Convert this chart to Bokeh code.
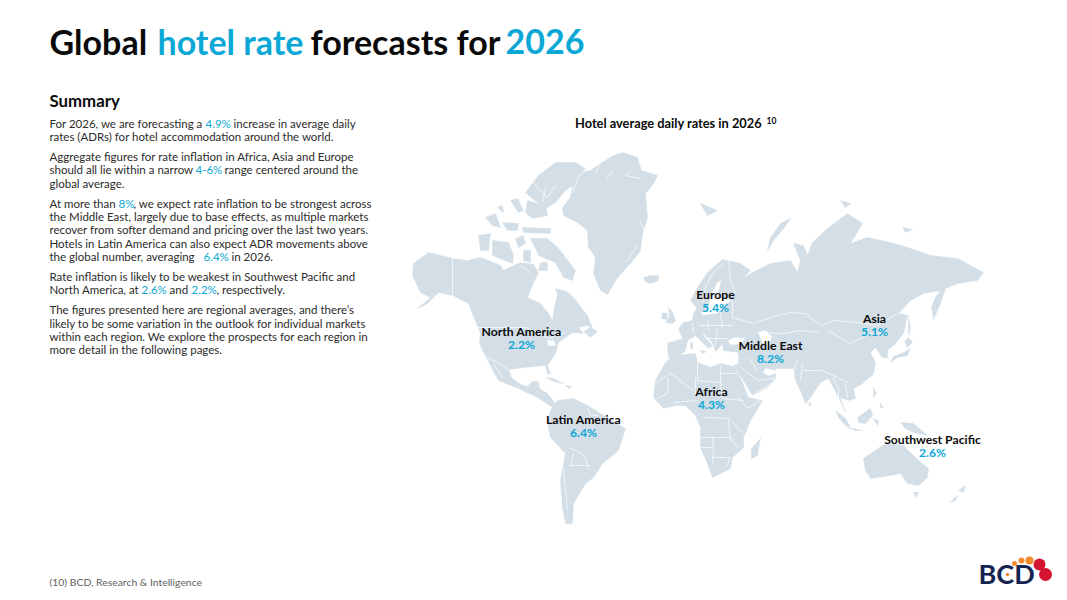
from bokeh.plotting import figure
from bokeh.models import Range1d, ColumnDataSource
from bokeh.core.properties import value
from bokeh.embed import file_html
from bokeh.resources import INLINE

# ---- Data -------------------------------------------------------------
regions = ["North America", "Europe", "Asia", "Middle East", "Africa", "Latin America", "Southwest Pacific"]
rates = ["2.2%", "5.4%", "5.1%", "8.2%", "4.3%", "6.4%", "2.6%"]
region_x = [521, 715, 874, 770, 711, 583, 932]
region_y = [330.5, 293.5, 317.5, 344.5, 390.5, 418.5, 438.5]

# map outlines
greenland = [(607,294),(600,290),(593,273),(595,257),(588,247),(587,230),(577,222),(563,215),(562,207),(570,197),(572,185),(580,172),(590,170),(600,163),(613,155),(623,152),(637,157),(641,170),(657,175),(653,183),(645,193),(647,217),(642,233),(640,250),(630,263),(617,277)]
iceland = [(643,277),(650,275),(658,275),(658,280),(650,283),(645,281)]
north_america = [(413,263),(428,252),(452,258),(467,260),(480,257),(500,265),(503,270),(507,268),(520,262),(533,264),(538,272),(533,282),(527,297),(540,303),(548,313),(552,320),(554,307),(557,295),(555,288),(566,291),(573,297),(587,315),(592,328),(587,325),(578,327),(583,333),(572,332),(558,342),(555,353),(547,365),(550,373),(547,373),(545,365),(523,367),(508,369),(511,377),(520,384),(527,386),(532,381),(538,381),(539,388),(547,393),(555,403),(552,407),(537,397),(518,388),(498,380),(490,365),(482,350),(479,342),(480,333),(476,323),(468,303),(452,295),(438,292),(427,303),(417,308),(430,297),(420,292),(412,275)]
arctic_islands = [
    [(525,192),(538,175),(555,162),(575,162),(585,168),(575,183),(565,190),(555,202),(545,208),(532,198)],
    [(510,200),(517,198),(523,210),(518,212)],
    [(527,200),(545,205),(547,215),(532,218),(525,212)],
    [(485,217),(495,213),(500,227),(492,225)],
    [(497,207),(502,205),(503,212)],
    [(502,222),(518,223),(517,230),(507,230)],
    [(522,227),(550,228),(550,233),(523,232)],
    [(478,235),(490,233),(488,250),(480,250)],
    [(492,240),(508,242),(513,255),(512,263),(492,255)],
    [(515,238),(523,235),(525,243),(518,247)],
    [(523,250),(530,250),(530,262),(523,260)],
    [(530,238),(547,238),(558,248),(575,270),(572,280),(563,277),(555,262),(538,255),(535,248)],
    [(540,262),(547,262),(547,270),(538,270)],
]
caribbean = [[(545,377),(553,378),(563,383),(553,381)], [(565,385),(572,386),(568,388)], [(590,327),(597,331),(590,337),(583,331)]]
south_america = [(557,400),(573,398),(587,405),(600,413),(625,428),(618,450),(602,463),(593,477),(585,483),(573,503),(572,523),(565,523),(562,507),(560,480),(565,453),(550,437),(547,422),(550,410)]
eurasia = [(752,272),(770,263),(790,260),(797,272),(800,260),(793,243),(803,245),(807,255),(812,242),(827,228),(847,213),(862,223),(850,243),(867,237),(890,242),(907,247),(930,255),(957,258),(983,272),(977,280),(957,283),(945,288),(940,303),(933,319),(931,307),(935,297),(940,290),(923,293),(910,300),(898,313),(907,315),(903,333),(895,343),(887,350),(887,357),(882,357),(875,347),(870,352),(875,362),(873,373),(862,383),(853,388),(855,398),(848,400),(840,397),(845,412),(840,400),(833,387),(828,378),(820,382),(810,397),(805,403),(800,390),(795,380),(793,368),(775,368),(775,378),(767,387),(752,395),(737,370),(733,365),(738,363),(738,352),(723,350),(722,343),(720,346),(715,351),(712,342),(702,332),(703,335),(712,345),(708,348),(695,335),(687,340),(685,350),(677,357),(668,357),(667,342),(682,338),(678,328),(683,322),(692,320),(693,313),(697,307),(702,315),(717,313),(722,305),(732,300),(717,297),(721,280),(717,281),(710,295),(707,310),(700,312),(690,300),(697,287),(707,272),(722,259),(740,263),(750,270),(742,278)]
uk = [[(668,307),(672,312),(675,320),(672,323),(665,322),(669,315)], [(662,312),(667,313),(666,319),(661,318)]]
africa = [(665,362),(673,355),(695,353),(697,362),(710,367),(720,363),(733,366),(738,373),(748,397),(762,400),(750,420),(743,437),(743,447),(732,457),(730,468),(720,473),(712,477),(707,463),(700,447),(700,427),(695,415),(685,405),(675,405),(663,408),(653,397),(655,380)]
madagascar = [(760,438),(757,455),(751,458),(751,448)]
australia = [(863,458),(882,445),(888,443),(903,445),(908,450),(918,460),(928,468),(927,477),(918,485),(907,483),(900,473),(890,475),(870,478),(865,470)]
oceania_islands = [
    [(913,492),(918,492),(916,497)],
    [(958,490),(965,485),(963,492)],
    [(949,502),(957,495),(955,500)],
    [(900,422),(913,423),(927,435),(913,432),(905,428)],
    [(835,410),(845,418),(850,427),(845,425),(838,417)],
    [(847,427),(862,430),(855,430)],
    [(857,417),(870,408),(872,415),(865,423),(858,422)],
    [(873,418),(878,420),(877,425)],
    [(873,387),(876,393),(873,397)],
    [(880,403),(883,407),(880,407)],
]
asia_islands = [
    [(910,348),(907,355),(897,357),(890,362),(893,356),(903,352)],
    [(908,337),(912,342),(907,347),(904,341)],
    [(908,315),(910,328),(908,335)],
    [(808,402),(811,404),(809,406)],
    [(871,371),(873,373),(871,376)],
    [(790,218),(780,223),(770,237),(767,250),(773,240),(784,227)],
    [(700,203),(717,210),(707,215)],
    [(840,200),(850,203),(845,207)],
    [(902,227),(912,229),(905,232)],
    [(700,350),(706,351),(702,353)],
    [(690,342),(692,342),(692,348),(690,348)],
]
waters = [
    [(728,340),(735,337),(744,338),(741,343),(730,344)],
    [(758,332),(765,330),(771,336),(769,345),(762,342)],
    [(765,368),(775,370),(775,373),(768,375),(763,372)],
    [(547,340),(553,340),(555,345),(548,345)],
]
borders = [
    [(476,327),(525,327),(535,331),(548,338),(555,335),(565,332)],
    [(483,355),(497,362),(508,369)],
    [(452,258),(452,295),(468,305)],
    [(493,363),(502,377)],
    [(563,467),(567,510)],
    [(568,447),(580,452),(585,457),(588,468)],
    [(573,452),(570,465),(590,465)],
    [(587,407),(590,415),(598,415)],
    [(655,382),(670,373),(693,390)],
    [(697,362),(697,380),(720,382)],
    [(720,365),(720,382),(722,398)],
    [(720,373),(737,373)],
    [(695,377),(695,395)],
    [(667,377),(668,392),(657,398)],
    [(673,402),(697,400)],
    [(738,397),(747,408),(760,400)],
    [(722,398),(743,400)],
    [(703,417),(730,418)],
    [(728,420),(730,440)],
    [(730,420),(743,433)],
    [(712,437),(730,437),(737,447)],
    [(700,437),(712,437),(713,447),(700,447)],
    [(713,447),(712,463)],
    [(713,457),(730,457),(725,467)],
    [(723,262),(712,273),(705,287),(702,302)],
    [(728,260),(730,280),(735,293)],
    [(707,320),(708,330)],
    [(692,322),(693,333)],
    [(668,342),(682,338)],
    [(732,300),(732,317),(753,323)],
    [(720,313),(722,328)],
    [(698,325),(733,325)],
    [(705,338),(727,338)],
    [(717,328),(715,345)],
    [(755,322),(777,315),(790,312),(805,313),(820,325)],
    [(820,325),(833,320),(857,322),(877,325),(897,313)],
    [(827,330),(850,343),(870,333),(885,332)],
    [(757,332),(783,333),(800,330),(818,332)],
    [(748,357),(757,370)],
    [(797,360),(793,373)],
    [(802,370),(822,370),(837,377),(847,382)],
    [(802,363),(800,380)],
    [(832,377),(838,388),(838,398)],
    [(845,383),(847,397)],
    [(738,365),(757,380),(775,378)],
    [(752,395),(770,383)],
    [(590,163),(578,177),(572,192)],
    [(600,163),(595,172)],
    [(612,170),(605,180)],
    [(632,170),(625,175),(640,178)],
    [(532,182),(547,197),(555,185)],
    [(545,188),(542,202)],
    [(640,222),(645,232)],
    [(625,262),(637,245)],
    [(530,272),(520,265)],
]

# Body text: (x, y, text, highlighted)
body_runs = [
    (49,122.5,"For 2026, we are forecasting a ",0),(205,122.5,"4.9%",1),(233,122.5,"increase in average daily",0),
    (49,135.5,"rates (ADRs) for hotel accommodation around the world.",0),
    (49,155.5,"Aggregate figures for rate inflation in Africa, Asia and Europe",0),
    (49,168.5,"should all lie within a narrow ",0),(195,168.5,"4-6%",1),(224,168.5,"range centered around the",0),
    (49,182.5,"global average.",0),
    (49,202.5,"At more than ",0),(118,202.5,"8%",1),(133,202.5,", we expect rate inflation to be strongest across",0),
    (49,215.5,"the Middle East, largely due to base effects, as multiple markets",0),
    (49,228.5,"recover from softer demand and pricing over the last two years.",0),
    (49,242.5,"Hotels in Latin America can also expect ADR movements above",0),
    (49,255.5,"the global number, averaging ",0),(203,255.5,"6.4%",1),(231,255.5,"in 2026.",0),
    (49,275.5,"Rate inflation is likely to be weakest in Southwest Pacific and",0),
    (49,288.5,"North America, at ",0),(141,288.5,"2.6%",1),(169,288.5,"and",0),(191,288.5,"2.2%",1),(216,288.5,", respectively.",0),
    (49,308.5,"The figures presented here are regional averages, and there\u2019s",0),
    (49,322.5,"likely to be some variation in the outlook for individual markets",0),
    (49,335.5,"within each region. We explore the prospects for each region in",0),
    (49,348.5,"more detail in the following pages.",0),
]
title_runs = [(49,"Global ",0),(157,"hotel rate",1),(310,"forecasts for",0),(505,"2026",1)]

LAND = "#D3DEE6"
ACCENT = "#0BA8D6"
INK = "#0A0A0A"
FONT = value("Lato")

p = figure(width=1059, height=592, x_range=Range1d(0, 1059), y_range=Range1d(592, 0),
           output_backend="svg", toolbar_location=None, min_border=0)
p.axis.visible = False
p.grid.visible = False
p.outline_line_color = None
p.background_fill_color = "white"

def xs(poly): return [pt[0] for pt in poly]
def ys(poly): return [pt[1] for pt in poly]

land = [greenland, iceland, north_america, south_america, eurasia, africa, madagascar, australia] \
    + arctic_islands + caribbean + uk + oceania_islands + asia_islands
p.patches([xs(a) for a in land], [ys(a) for a in land], fill_color=LAND, line_color=LAND, line_width=0.5)
p.patches([xs(a) for a in waters], [ys(a) for a in waters], fill_color="white", line_color="white", line_width=0.5)
p.multi_line([xs(a) for a in borders], [ys(a) for a in borders], line_color="white", line_width=0.7)

# Title
for x, t, h in title_runs:
    p.text([x], [40.5], text=[t], text_font=FONT, text_font_style="bold", text_font_size="34px",
           text_color=ACCENT if h else INK, text_baseline="middle")

# Summary
p.text([49], [99.5], text=["Summary"], text_font=FONT, text_font_style="bold", text_font_size="16.8px",
       text_color=INK, text_baseline="middle")
for x, y, t, h in body_runs:
    p.text([x], [y], text=[t], text_font=FONT, text_font_size="11.5px",
           text_color=ACCENT if h else "#2B2B2B", text_baseline="middle")

# Chart heading
p.text([574.5], [122.5], text=["Hotel average daily rates in 2026"], text_font=FONT, text_font_style="bold",
       text_font_size="12.8px", text_color=INK, text_baseline="middle")
p.text([766], [120], text=["10"], text_font=FONT, text_font_style="bold", text_font_size="8.5px",
       text_color=INK, text_baseline="middle")

# Region labels
src = ColumnDataSource(dict(x=region_x, y=region_y, name=regions, rate=rates, y2=[v + 13.5 for v in region_y]))
p.text("x", "y", text="name", source=src, text_font=FONT, text_font_style="bold", text_font_size="12.2px",
       text_color=INK, text_align="center", text_baseline="middle")
p.text("x", "y2", text="rate", source=src, text_font=FONT, text_font_style="bold", text_font_size="12.2px",
       text_color=ACCENT, text_align="center", text_baseline="middle")

# Footer
p.text([49], [581.5], text=["(10) BCD, Research & Intelligence"], text_font=FONT, text_font_size="10.4px",
       text_color="#5F5F5F", text_baseline="middle")

# Logo
p.text([978], [573], text=["BCD"], text_font=FONT, text_font_style="bold", text_font_size="27px",
       text_color="#14234F", text_baseline="middle")
p.scatter([1039, 1045], [564, 574], size=[12, 13], color="#D3142F", line_color=None)
p.scatter([1029, 1021, 1014, 1007], [560, 560, 563, 574], size=[8, 6, 5, 3.5], color="#F58A2E", line_color=None)

open("out.html", "w").write(file_html(p, INLINE))
